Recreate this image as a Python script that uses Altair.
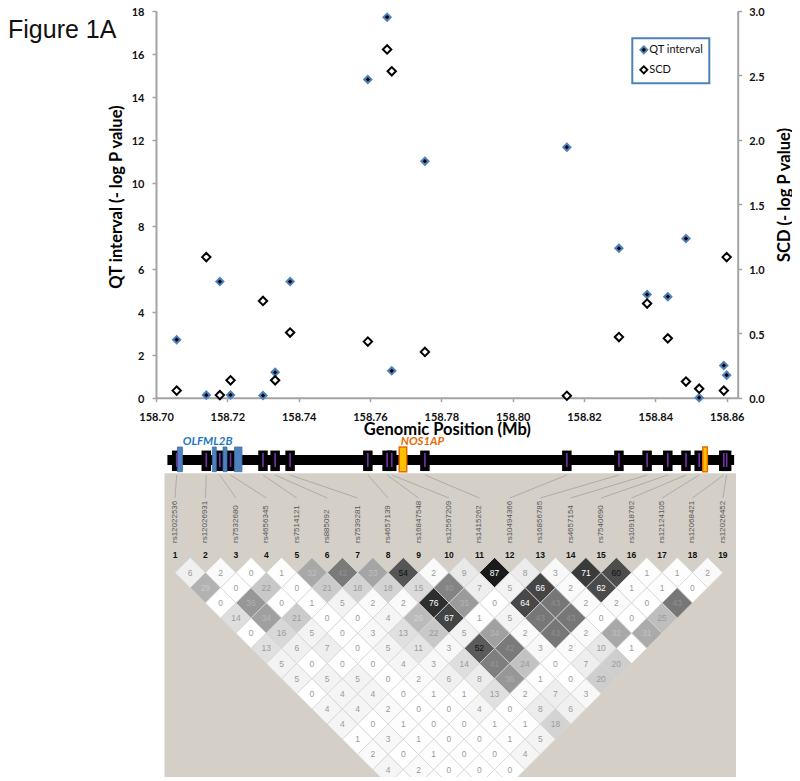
import altair as alt
import numpy as np
import pandas as pd

# ---- association scatter ----
snp_mb = [158.7058, 158.7141, 158.7179, 158.7209, 158.7300, 158.7334, 158.7376, 158.7594, 158.7648,
          158.7661, 158.7754, 158.8152, 158.8298, 158.8377, 158.8435, 158.8486, 158.8523, 158.8592, 158.8600]
qt_values = [2.7, 0.12, 5.4, 0.13, 0.1, 1.18, 5.4, 14.8, 17.7, 1.25, 11.0, 11.65, 6.95, 4.8, 4.7, 7.4, 0.0, 1.5, 1.05]
scd_values = [0.055, 1.09, 0.02, 0.135, 0.75, 0.135, 0.505, 0.435, 2.7, 2.53, 0.355, 0.015, 0.47, 0.73, 0.46, 0.125, 0.07, 0.055, 1.09]
x_ticks = [158.70, 158.72, 158.74, 158.76, 158.78, 158.80, 158.82, 158.84, 158.86]
series_names = ["QT interval", "SCD"]

# ---- gene track ----
track_span = [158.7032, 158.8621]
blue_exon_start = [158.7060, 158.7158, 158.7188, 158.7220]
blue_exon_end = [158.7074, 158.7169, 158.7199, 158.7241]
orange_exon_start = [158.7682, 158.8533]
orange_exon_end = [158.7703, 158.8546]

# ---- LD triangle ----
snp_names = ["rs12022536", "rs12026931", "rs7532680", "rs4656345", "rs7514121", "rs885092", "rs7539281",
             "rs4657139", "rs16847548", "rs12567209", "rs1415262", "rs10494366", "rs16856785", "rs4657154",
             "rs7540690", "rs10918762", "rs12124105", "rs12068421", "rs12026452"]
ld_rows = [
    [6, 2, 0, 1, 32, 42, 33, 54, 2, 9, 87, 8, 3, 71, 60, 1, 1, 2],
    [29, 0, 22, 0, 21, 18, 18, 15, 40, 7, 5, 66, 2, 62, 1, 1, 0],
    [0, 36, 0, 1, 5, 2, 2, 76, 35, 0, 64, 43, 2, 2, 0, 43],
    [14, 34, 21, 0, 0, 4, 26, 67, 1, 5, 43, 43, 0, 0, 25],
    [0, 16, 5, 0, 3, 13, 22, 5, 34, 2, 43, 2, 32, 31],
    [13, 6, 7, 0, 5, 11, 3, 52, 42, 3, 2, 10, 1],
    [5, 0, 0, 0, 4, 3, 14, 41, 24, 0, 7, 20],
    [5, 5, 5, 0, 2, 6, 8, 36, 1, 0, 20],
    [0, 4, 4, 0, 1, 1, 13, 2, 7, 3],
    [4, 4, 2, 0, 0, 4, 0, 8, 6],
    [4, 0, 1, 0, 0, 1, 1, 18],
    [1, 3, 1, 0, 0, 1, 5],
    [2, 0, 1, 0, 0, 4],
    [4, 2, 0, 0, 0],
    [0, 0, 0, 0],
]
shade_stops = [0, 1, 6, 14, 22, 33, 42, 54, 67, 76, 87]
shade_greys = [255, 253, 240, 222, 200, 165, 122, 85, 68, 46, 26]

FIRST_SNP_MB = 158.70533
SNP_STEP_MB = 0.008534
LAST_LABELLED_ROW = 14

# ---- tables ----
qt_df = pd.DataFrame({"mb": snp_mb, "v": qt_values, "series": series_names[0]})
scd_df = pd.DataFrame({"mb": snp_mb, "v": scd_values, "series": series_names[1]})
snp_df = pd.DataFrame({
    "mb": snp_mb,
    "name": snp_names,
    "num": [str(i + 1) for i in range(19)],
    "label_mb": [FIRST_SNP_MB + SNP_STEP_MB * i for i in range(19)],
})


def hexgrey(g):
    return f"#{g:02x}{g:02x}{g:02x}"


cells = []
for k, row in enumerate(ld_rows):
    d = k + 1
    for a, val in enumerate(row):
        grey = int(round(np.interp(val, shade_stops, shade_greys)))
        if val >= 62:
            ink = "#ffffff"
        elif val >= 44:
            ink = "#111111"
        elif val >= 26:
            ink = hexgrey(grey + 24)
        else:
            ink = "#9b9b9b"
        cells.append({
            "mb": FIRST_SNP_MB + SNP_STEP_MB * (a + d / 2),
            "d": d,
            "val": str(val),
            "shade": hexgrey(grey),
            "ink": ink,
        })
cells_df = pd.DataFrame(cells)

# ---- scales ----
GREY = "#a3a3a3"
LAB = "Lato"
axis_common = dict(grid=False, domainColor=GREY, domainWidth=2, tickColor=GREY, tickWidth=1.5, tickSize=4,
                   labelFont=LAB, labelFontWeight="bold", labelFontSize=11, labelColor="#111111",
                   titleFont=LAB, titleFontWeight="bold", titleFontSize=16.5, titleColor="#000000")
x_scale = alt.Scale(domain=[158.70, 158.8631], range=[148, 729.7], nice=False, zero=False)
x_axis = alt.Axis(values=x_ticks, format=".2f", orient="bottom", offset=-379.3, labelPadding=10, labelFlush=False,
                  titlePadding=-1, **axis_common)
X_TITLE = "Genomic Position (Mb)"
x_enc = alt.X("mb:Q", scale=x_scale, axis=x_axis, title=X_TITLE)
x_lab = alt.X("label_mb:Q", scale=x_scale, axis=x_axis, title=X_TITLE)
ld_y = alt.Y("d:Q", scale=alt.Scale(domain=[0, 15], range=[549.5, 776.75], nice=False, zero=False), axis=None, title=None)

fill_scale = alt.Scale(domain=series_names, range=["#000000", "#ffffff"])
stroke_scale = alt.Scale(domain=series_names, range=["#4f81bd", "#000000"])
legend = alt.Legend(orient="none", legendX=624.3, legendY=30.3, title=None, strokeColor="#4f81bd",
                    padding=6, symbolType="diamond", symbolSize=50, symbolStrokeWidth=1.9,
                    labelFont=LAB, labelFontSize=11, labelColor="#111111", rowPadding=5, labelOffset=0, offset=0)
fill_enc = alt.Fill("series:N", scale=fill_scale, legend=legend)
stroke_enc = alt.Stroke("series:N", scale=stroke_scale, legend=legend)

blank = alt.Data(values=[{"k": 0}])

panel = alt.Chart(blank).mark_rect(color="#d4d0c8").encode(
    x=alt.value(156.5), x2=alt.value(728), y=alt.value(465.3), y2=alt.value(769))

qt_layer = alt.Chart(qt_df).mark_point(shape="diamond", filled=True, size=52, strokeWidth=2, opacity=1).encode(
    x=x_enc,
    y=alt.Y("v:Q", scale=alt.Scale(domain=[0, 18], range=[389.7, 2.7], nice=False),
            title="QT interval (- log P value)",
            axis=alt.Axis(values=list(range(0, 20, 2)), orient="left", offset=-148, labelPadding=8, labelOffset=2,
                          titlePadding=6.5, titleY=188.5, **axis_common)),
    fill=fill_enc, stroke=stroke_enc)

scd_layer = alt.Chart(scd_df).mark_point(shape="diamond", filled=True, size=70, strokeWidth=2, opacity=1).encode(
    x=x_enc,
    y=alt.Y("v:Q", scale=alt.Scale(domain=[0, 3], range=[389.7, 2.7], nice=False),
            title="SCD (- log P value)",
            axis=alt.Axis(values=[0, 0.5, 1, 1.5, 2, 2.5, 3], format=".1f", orient="right", offset=-54.3,
                          labelPadding=7, labelOffset=2, titlePadding=28, titleAngle=270, titleY=186.5,
                          **axis_common)),
    fill=fill_enc, stroke=stroke_enc)

track_bar = alt.Chart(pd.DataFrame({"mb": [track_span[0]], "mb2": [track_span[1]]})).mark_rect(color="#000000").encode(
    x=x_enc, x2="mb2:Q", y=alt.value(447), y2=alt.value(457))
blocks = alt.Chart(snp_df).mark_tick(color="#000000", thickness=9.5, size=20.5, opacity=1).encode(x=x_enc, y=alt.value(452.8))
blue_exons = alt.Chart(pd.DataFrame({"mb": blue_exon_start, "mb2": blue_exon_end})).mark_rect(
    color="#4f81bd", stroke="#3a6ea5", strokeWidth=0.8).encode(x=x_enc, x2="mb2:Q", y=alt.value(439), y2=alt.value(463.7))
orange_exons = alt.Chart(pd.DataFrame({"mb": orange_exon_start, "mb2": orange_exon_end})).mark_rect(
    color="#ffc000", stroke="#e36c0a", strokeWidth=1.5).encode(x=x_enc, x2="mb2:Q", y=alt.value(439), y2=alt.value(463.7))
purple = alt.Chart(snp_df).mark_tick(color="#7030a0", thickness=1.7, size=14, opacity=1).encode(x=x_enc, y=alt.value(452))

gene_names = pd.DataFrame({"mb": [158.7075, 158.7686], "gene": ["OLFML2B", "NOS1AP"], "ink": ["#1f78c1", "#e36c0a"]})
gene_text = alt.Chart(gene_names).mark_text(align="left", baseline="middle", font="Lato", fontWeight="bold",
                                            fontStyle="italic", fontSize=11.5).encode(
    x=x_enc, y=alt.value(433.5), text="gene:N", color=alt.Color("ink:N", scale=None))

connectors = alt.Chart(snp_df).mark_rule(color="#a8a8a4", strokeWidth=0.9).encode(
    x=x_enc, x2="label_mb:Q", y=alt.value(467), y2=alt.value(490))
names = alt.Chart(snp_df).mark_text(angle=270, align="left", baseline="middle", font="Liberation Sans",
                                    fontSize=8, color="#555555").encode(
    x=x_lab, y=alt.value(535), text="name:N")
numbers = alt.Chart(snp_df).mark_text(align="center", baseline="middle", font="Liberation Sans", fontWeight="bold",
                                      fontSize=8.5, color="#111111").encode(
    x=x_lab, y=alt.value(547), text="num:N")

diamonds = alt.Chart(cells_df).mark_point(shape="diamond", filled=True, size=924, stroke="#d6d6d6", strokeWidth=0.8,
                                          opacity=1, clip=True).encode(
    x=x_enc, y=ld_y, fill=alt.Fill("shade:N", scale=None))
cell_text = alt.Chart(cells_df[cells_df["d"] <= LAST_LABELLED_ROW]).mark_text(
    align="center", baseline="middle", font="Liberation Sans", fontSize=8.5, clip=True).encode(
    x=x_enc, y=ld_y, text="val:N", color=alt.Color("ink:N", scale=None))

fig_label = alt.Chart(pd.DataFrame({"t": ["Figure 1A"]})).mark_text(
    align="left", baseline="middle", font="Liberation Sans", fontSize=25, color="#111111").encode(
    x=alt.value(0), y=alt.value(22), text="t:N")

chart = alt.layer(
    panel, connectors, names, numbers, diamonds, cell_text,
    track_bar, blocks, blue_exons, orange_exons, purple, gene_text,
    qt_layer, scd_layer, fig_label,
).resolve_scale(y="independent").properties(
    width=784, height=769, padding=0, background="#ffffff",
    autosize=alt.AutoSizeParams(type="none"),
).configure_view(stroke=None).configure_legend(strokeWidth=2)

chart.save("out.html", embed_options={"renderer": "svg", "actions": False})
